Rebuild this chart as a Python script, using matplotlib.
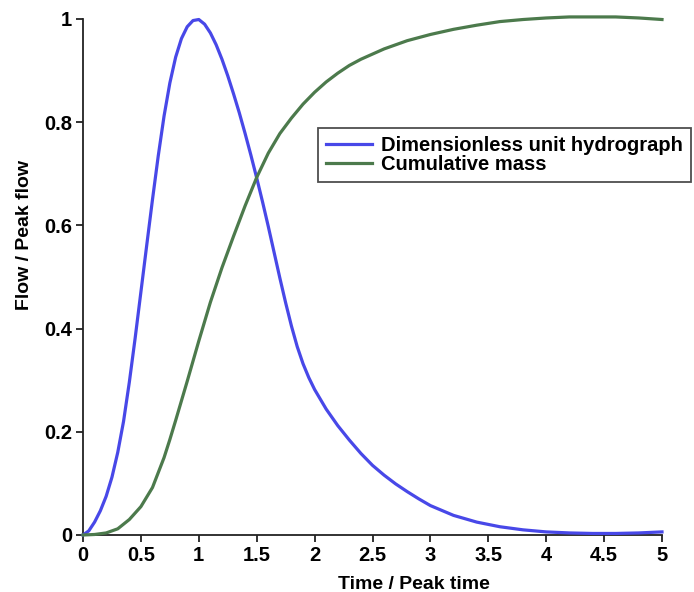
import matplotlib
matplotlib.use("Agg")
import matplotlib.pyplot as plt

# values
time_ratio_uh = [0, 0.05, 0.1, 0.15, 0.2, 0.25, 0.3, 0.35, 0.4, 0.45, 0.5, 0.55, 0.6, 0.65,
                 0.7, 0.75, 0.8, 0.85, 0.9, 0.95, 1.0, 1.05, 1.1, 1.15, 1.2, 1.25, 1.3, 1.35,
                 1.4, 1.45, 1.5, 1.55, 1.6, 1.65, 1.7, 1.75, 1.8, 1.85, 1.9, 1.95, 2.0,
                 2.1, 2.2, 2.3, 2.4, 2.5, 2.6, 2.7, 2.8, 2.9, 3.0, 3.2, 3.4, 3.6, 3.8,
                 4.0, 4.2, 4.4, 4.6, 4.8, 5.0]
flow_ratio_uh = [0, 0.008, 0.025, 0.047, 0.075, 0.112, 0.16, 0.22, 0.296, 0.381, 0.471, 0.561,
                 0.65, 0.735, 0.812, 0.876, 0.926, 0.962, 0.985, 0.997, 0.999, 0.99, 0.973,
                 0.95, 0.922, 0.89, 0.855, 0.818, 0.778, 0.736, 0.692, 0.646, 0.598, 0.548,
                 0.498, 0.45, 0.405, 0.365, 0.332, 0.305, 0.282, 0.244, 0.212, 0.184, 0.158,
                 0.135, 0.116, 0.099, 0.084, 0.07, 0.057, 0.038, 0.025, 0.016, 0.01,
                 0.006, 0.004, 0.003, 0.003, 0.004, 0.006]

time_ratio_mass = [0, 0.1, 0.2, 0.3, 0.4, 0.5, 0.6, 0.7, 0.75, 0.8, 0.9, 1.0, 1.1, 1.2, 1.3,
                   1.4, 1.5, 1.6, 1.7, 1.8, 1.9, 2.0, 2.1, 2.2, 2.3, 2.4, 2.6, 2.8, 3.0,
                   3.2, 3.4, 3.6, 3.8, 4.0, 4.2, 4.4, 4.6, 4.8, 5.0]
mass_ratio = [0, 0.001, 0.004, 0.012, 0.03, 0.055, 0.092, 0.15, 0.185, 0.222, 0.298, 0.376,
              0.451, 0.518, 0.579, 0.638, 0.693, 0.74, 0.778, 0.808, 0.835, 0.858, 0.878,
              0.895, 0.91, 0.922, 0.942, 0.958, 0.97, 0.98, 0.988, 0.995, 0.999, 1.002,
              1.004, 1.004, 1.004, 1.002, 0.999]

x_ticks = [0, 0.5, 1, 1.5, 2, 2.5, 3, 3.5, 4, 4.5, 5]
x_tick_labels = ["0", "0.5", "1", "1.5", "2", "2.5", "3", "3.5", "4", "4.5", "5"]
y_ticks = [0, 0.2, 0.4, 0.6, 0.8, 1]
y_tick_labels = ["0", "0.2", "0.4", "0.6", "0.8", "1"]

plt.rcParams["font.family"] = ["Liberation Sans", "DejaVu Sans"]
plt.rcParams["font.weight"] = "bold"

fig = plt.figure(figsize=(6.94, 5.92), dpi=100)
ax = fig.add_axes([83 / 694, 1 - 535 / 592, (662 - 83) / 694, (535 - 19) / 592])

ax.plot(time_ratio_uh, flow_ratio_uh, color="#4848E8", lw=2.3,
        label="Dimensionless unit hydrograph", clip_on=False, zorder=3,
        solid_joinstyle="round")
ax.plot(time_ratio_mass, mass_ratio, color="#4C7A4C", lw=2.3,
        label="Cumulative mass", clip_on=False, zorder=3, solid_joinstyle="round")

ax.set_xlim(0, 5)
ax.set_ylim(0, 1)
ax.set_xticks(x_ticks)
ax.set_xticklabels(x_tick_labels)
ax.set_yticks(y_ticks)
ax.set_yticklabels(y_tick_labels)
ax.tick_params(direction="out", length=5, width=1.3, labelsize=14.5, pad=3, color="#222222")

for side in ["top", "right"]:
    ax.spines[side].set_visible(False)
for side in ["left", "bottom"]:
    ax.spines[side].set_linewidth(1.3)
    ax.spines[side].set_color("#222222")

ax.set_xlabel("Time / Peak time", fontsize=14, fontweight="bold")
ax.set_ylabel("Flow / Peak flow", fontsize=14, fontweight="bold")
ax.xaxis.set_label_coords(0.572, -0.079)
ax.yaxis.set_label_coords(-0.086, 0.581)

leg = ax.legend(loc="upper left", bbox_to_anchor=(318 / 694, 1 - 128 / 592),
                bbox_transform=fig.transFigure, fontsize=14.5, frameon=True,
                fancybox=False, handlelength=2.3, handletextpad=0.45,
                borderpad=0.4, labelspacing=0.0, borderaxespad=0)
leg.get_frame().set_edgecolor("#222222")
leg.get_frame().set_linewidth(1.3)

fig.savefig("out.png", dpi=100)
